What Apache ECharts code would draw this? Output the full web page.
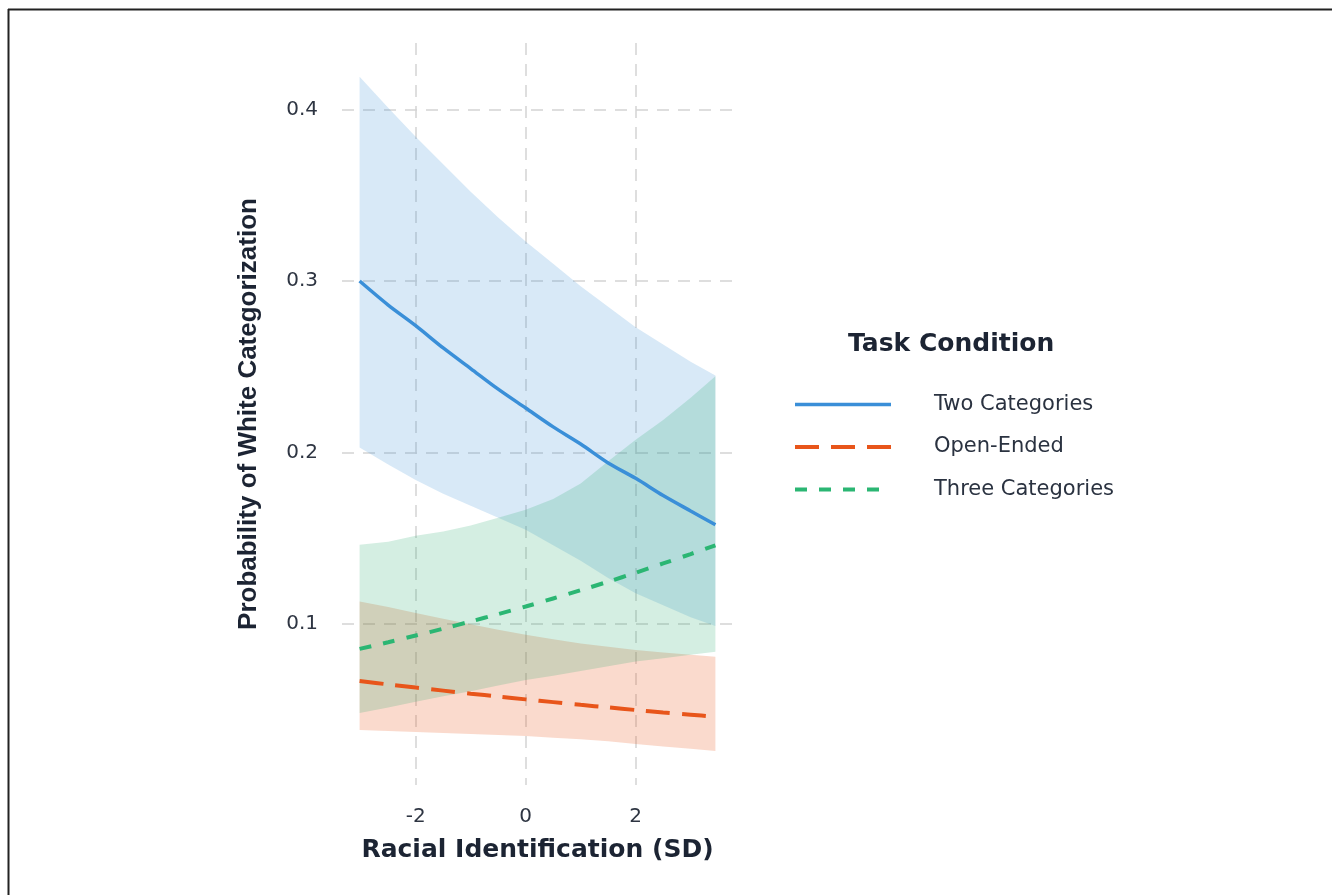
<!DOCTYPE html>
<html>
<head>
<meta charset="utf-8">
<script src="https://cdn.jsdelivr.net/npm/echarts@6/dist/echarts.min.js"></script>
<style>
  html, body { margin: 0; padding: 0; background: #fff; }
  #chart { width: 1332px; height: 895px; }
</style>
</head>
<body>
<div id="chart"></div>
<script>
// predicted probability of white categorization by racial identification

var xs = [-3.02, -2.5, -2, -1.5, -1, -0.5, 0, 0.5, 1, 1.5, 2, 2.5, 3, 3.45];

// Two Categories
var twoFit = [0.300, 0.286, 0.274, 0.261, 0.249, 0.237, 0.226, 0.215, 0.205, 0.194, 0.185, 0.175, 0.166, 0.158];
var twoLo  = [0.203, 0.193, 0.184, 0.176, 0.169, 0.162, 0.155, 0.146, 0.137, 0.127, 0.118, 0.111, 0.104, 0.099];
var twoHi  = [0.419, 0.401, 0.384, 0.368, 0.352, 0.337, 0.323, 0.310, 0.297, 0.285, 0.273, 0.263, 0.253, 0.245];

// Open-Ended
var openFit = [0.0669, 0.0649, 0.0631, 0.0613, 0.0595, 0.0579, 0.0562, 0.0546, 0.0530, 0.0515, 0.0500, 0.0486, 0.0473, 0.0461];
var openLo  = [0.0383, 0.0378, 0.0372, 0.0366, 0.0360, 0.0354, 0.0348, 0.0339, 0.0330, 0.0318, 0.0302, 0.0288, 0.0274, 0.0261];
var openHi  = [0.1132, 0.1100, 0.1066, 0.1032, 0.1000, 0.0968, 0.0938, 0.0912, 0.0888, 0.0868, 0.0850, 0.0835, 0.0822, 0.0811];

// Three Categories
var threeFit = [0.0856, 0.0895, 0.0934, 0.0974, 0.1016, 0.1059, 0.1103, 0.1150, 0.1198, 0.1248, 0.1300, 0.1354, 0.1409, 0.1460];
var threeLo  = [0.0482, 0.0515, 0.0548, 0.0580, 0.0610, 0.0643, 0.0675, 0.0700, 0.0728, 0.0755, 0.0782, 0.0802, 0.0822, 0.0840];
var threeHi  = [0.1463, 0.1480, 0.1515, 0.1540, 0.1575, 0.1620, 0.1667, 0.1730, 0.1820, 0.1950, 0.2075, 0.2190, 0.2320, 0.2445];

var names = ['Two Categories', 'Open-Ended', 'Three Categories'];
var yTitle = 'Probability of White Categorization';
var xTitle = 'Racial Identification (SD)';
var legendTitle = 'Task Condition';

var blue = '#3a8fd8';
var orange = '#e8551a';
var green = '#2bb673';
var ink = '#1c2433';

function pairs(vals) {
  return xs.map(function (x, i) { return [x, vals[i]]; });
}

// confidence band drawn as one polygon through the axis scales
function ribbon(key, lo, hi, fill) {
  var rows = xs.map(function (x, i) { return [x, lo[i], hi[i]]; });
  return {
    type: 'custom', name: key + ' band', silent: true, z: 1,
    data: rows,
    encode: { x: 0, y: [1, 2] },
    renderItem: function (params, api) {
      if (params.dataIndex !== 0) return;
      var pts = [];
      for (var i = 0; i < rows.length; i++) pts.push(api.coord([rows[i][0], rows[i][2]]));
      for (var j = rows.length - 1; j >= 0; j--) pts.push(api.coord([rows[j][0], rows[j][1]]));
      return { type: 'polygon', shape: { points: pts }, style: { fill: fill } };
    }
  };
}

function fitLine(name, vals, color, dash) {
  return {
    type: 'line', name: name, data: pairs(vals),
    symbol: 'none', smooth: 0.3, z: 5,
    lineStyle: { color: color, width: dash === 'solid' ? 3.5 : 4, type: dash, cap: 'butt' },
    itemStyle: { color: color }
  };
}

var dom = document.getElementById('chart');
var myChart = echarts.init(dom);

var gridLine = { show: true, lineStyle: { color: '#d4d4d4', width: 1.5, type: [12, 9] } };

var option = {
  backgroundColor: '#fff',
  animation: false,
  title: {
    text: legendTitle,
    left: 848, top: 332, padding: 0,
    textStyle: { fontFamily: 'DejaVu Sans', fontWeight: 'bold', fontSize: 25, color: ink }
  },
  legend: {
    orient: 'vertical',
    left: 793, top: 394,
    itemWidth: 96, itemHeight: 14, itemGap: 21.5,
    padding: 0,
    data: names,
    itemStyle: { opacity: 0 },
    lineStyle: { width: 'inherit' },
    textStyle: { fontFamily: 'DejaVu Sans', fontSize: 21, color: '#2a3240', padding: [0, 0, 0, 38] }
  },
  grid: { left: 342, right: 599, top: 43, bottom: 110 },
  xAxis: {
    type: 'value',
    min: -3.34, max: 3.77,
    minInterval: 2, maxInterval: 2,
    name: xTitle,
    nameLocation: 'middle',
    nameGap: 65,
    nameTextStyle: { fontFamily: 'DejaVu Sans', fontWeight: 'bold', fontSize: 25, color: ink, verticalAlign: 'middle' },
    axisLine: { show: false },
    axisTick: { show: false },
    axisLabel: { fontFamily: 'DejaVu Sans', fontSize: 20, color: '#2e3542', margin: 22, showMinLabel: false, showMaxLabel: false },
    splitLine: Object.assign({ showMinLine: false, showMaxLine: false }, gridLine)
  },
  yAxis: {
    type: 'value',
    min: 0.0063, max: 0.4387,
    minInterval: 0.1, maxInterval: 0.1,
    name: yTitle,
    nameLocation: 'middle',
    nameGap: 93,
    nameTextStyle: { fontFamily: 'Liberation Sans', fontWeight: 'bold', fontSize: 26, color: ink, verticalAlign: 'middle' },
    axisLine: { show: false },
    axisTick: { show: false },
    axisLabel: { fontFamily: 'DejaVu Sans', fontSize: 20, color: '#2e3542', margin: 24, showMinLabel: false, showMaxLabel: false },
    splitLine: Object.assign({ showMinLine: false, showMaxLine: false }, gridLine)
  },
  graphic: [
    { type: 'line', shape: { x1: 8.5, y1: 9, x2: 8.5, y2: 895 }, style: { stroke: '#222', lineWidth: 2 }, silent: true },
    { type: 'line', shape: { x1: 8, y1: 9.5, x2: 1332, y2: 9.5 }, style: { stroke: '#222', lineWidth: 2 }, silent: true }
  ],
  series: [
    ribbon('two', twoLo, twoHi, 'rgba(58,143,216,0.2)'),
    ribbon('open', openLo, openHi, 'rgba(232,85,26,0.22)'),
    ribbon('three', threeLo, threeHi, 'rgba(40,170,110,0.2)'),
    fitLine(names[0], twoFit, blue, 'solid'),
    fitLine(names[1], openFit, orange, [24, 12]),
    fitLine(names[2], threeFit, green, [12, 12])
  ]
};

if (option && typeof option === 'object') {
  myChart.setOption(option);
}
</script>
</body>
</html>
